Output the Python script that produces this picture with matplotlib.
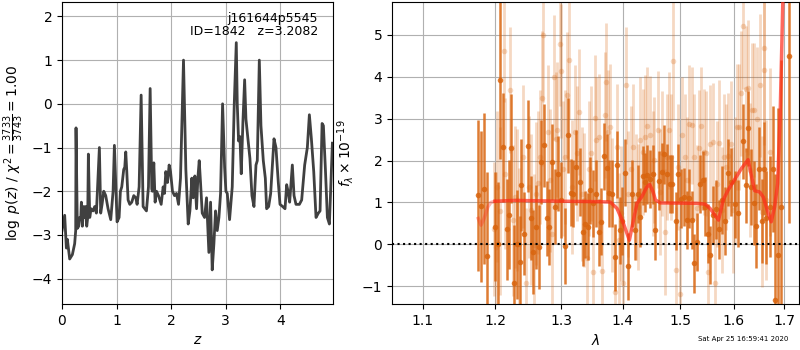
import matplotlib
matplotlib.use("Agg")
import matplotlib.pyplot as plt
from matplotlib.ticker import FixedLocator, NullLocator, FixedFormatter
import numpy as np

# ---------------- left panel: log p(z) ----------------
z_grid = [0.000, 0.049, 0.080, 0.098, 0.141, 0.190, 0.232, 0.251, 0.257, 0.281,
          0.306, 0.324, 0.343, 0.355, 0.373, 0.398, 0.422, 0.434, 0.453, 0.471,
          0.483, 0.508, 0.532, 0.569, 0.599, 0.630, 0.685, 0.709, 0.734, 0.765,
          0.801, 0.844, 0.893, 0.936, 0.960, 1.009, 1.046, 1.070, 1.095, 1.131,
          1.150, 1.168, 1.187, 1.211, 1.242, 1.278, 1.315, 1.352, 1.376, 1.413,
          1.450, 1.486, 1.547, 1.584, 1.615, 1.645, 1.657, 1.682, 1.706, 1.731,
          1.768, 1.817, 1.853, 1.878, 1.902, 1.933, 1.963, 1.988, 2.024, 2.061,
          2.098, 2.135, 2.171, 2.226, 2.269, 2.312, 2.343, 2.379, 2.404, 2.434,
          2.465, 2.489, 2.514, 2.538, 2.569, 2.612, 2.648, 2.691, 2.722, 2.752,
          2.783, 2.813, 2.844, 2.875, 2.905, 2.942, 2.979, 3.003, 3.028, 3.070,
          3.119, 3.156, 3.193, 3.211, 3.235, 3.260, 3.284, 3.315, 3.346, 3.370,
          3.394, 3.443, 3.480, 3.517, 3.554, 3.578, 3.615, 3.645, 3.688, 3.725,
          3.749, 3.786, 3.823, 3.859, 3.884, 3.920, 3.963, 3.994, 4.043, 4.086,
          4.116, 4.141, 4.171, 4.220, 4.251, 4.287, 4.349, 4.391, 4.446, 4.495,
          4.532, 4.569, 4.612, 4.654, 4.697, 4.728, 4.765, 4.789, 4.826, 4.862,
          4.899, 4.954]
log_pz = [-2.9, -2.55, -3.3, -3.1, -3.55, -3.45, -3.2, -2.9, -0.55, -2.85,
          -2.8, -2.6, -2.65, -2.25, -2.8, -2.35, -2.6, -2.35, -2.8, -2.6,
          -1.15, -2.6, -2.4, -2.45, -2.35, -2.5, -1.0, -2.5, -2.3, -2.0,
          -2.1, -2.4, -2.65, -2.0, -0.95, -2.7, -2.6, -2.0, -1.9, -1.5,
          -1.45, -1.1, -1.55, -2.2, -2.3, -2.25, -2.1, -2.15, -2.3, -1.9,
          0.2, -2.35, -2.45, -1.9, 0.35, -1.95, -2.0, -1.35, -2.25, -2.0,
          -2.1, -2.3, -1.9, -2.05, -1.55, -1.8, -1.4, -1.55, -2.0, -2.1,
          -2.05, -2.3, -1.7, 1.0, -1.5, -2.75, -2.45, -1.7, -2.15, -1.65,
          -2.4, -1.7, -1.3, -1.8, -2.5, -2.6, -2.15, -3.4, -2.25, -3.8,
          -3.2, -2.45, -2.9, -2.6, -2.05, 0.0, -1.45, -2.0, -2.05, -2.65,
          -1.9, 0.0, 1.4, 0.0, -0.85, -0.75, -1.6, -0.4, 0.55, -0.35,
          -0.65, -1.25, -2.1, -2.35, -1.4, -1.3, 1.0, -0.5, -1.3, -1.7,
          -2.4, -2.35, -2.05, -1.3, -0.8, -1.0, -1.8, -2.3, -2.35, -2.4,
          -1.85, -2.0, -2.25, -1.4, -2.1, -2.3, -2.3, -2.2, -1.4, -1.0,
          -0.25, -0.8, -1.55, -2.6, -2.5, -2.45, -0.45, -0.5, -1.5, -2.6,
          -2.75, -0.9]

field_name = "j161644p5545"
obj_id = 1842
z_best = 3.2082
chi2_num, chi2_den, chi2_red = 3733, 3743, 1.00

# ---------------- right panel: spectrum ----------------
wave_fit = [1.176, 1.180, 1.184, 1.189, 1.200, 1.204, 1.207, 1.212, 1.217, 1.221,
            1.224, 1.228, 1.232, 1.237, 1.239, 1.243, 1.249, 1.253, 1.256, 1.261,
            1.265, 1.269, 1.273, 1.277, 1.281, 1.285, 1.290, 1.294, 1.300, 1.306,
            1.311, 1.315, 1.319, 1.323, 1.329, 1.334, 1.337, 1.342, 1.346, 1.351,
            1.355, 1.360, 1.364, 1.369, 1.373, 1.377, 1.382, 1.386, 1.390, 1.395,
            1.399, 1.404, 1.409, 1.415, 1.420, 1.425, 1.429, 1.434, 1.438, 1.442,
            1.447, 1.452, 1.456, 1.462, 1.467, 1.471, 1.476, 1.481, 1.486, 1.492,
            1.497, 1.502, 1.507, 1.512, 1.517, 1.522, 1.526, 1.531, 1.536, 1.541,
            1.545, 1.551, 1.555, 1.560, 1.566, 1.571, 1.577, 1.583, 1.590, 1.595,
            1.603, 1.609, 1.618, 1.623, 1.628, 1.633, 1.640, 1.644, 1.650, 1.655,
            1.659, 1.664, 1.672, 1.677, 1.682, 1.688, 1.693, 1.710]
flux_fit = [1.17, 0.91, 1.33, -0.28, 0.42, 0.0, 3.93, 2.32, 0.36, 0.71,
            2.29, -0.93, 0.0, -0.43, 1.41, 0.26, 2.34, 0.62, -0.17, 0.42,
            -0.07, 1.97, 2.36, 0.62, 0.42, 1.97, 0.9, 1.69, 1.06, -0.04,
            2.6, 1.23, 1.21, 1.84, 1.49, 0.29, 0.48, 0.42, 1.29, 0.98,
            1.21, 0.29, 0.54, 2.1, 1.83, 1.22, 1.21, -0.31, 1.9, 0.34,
            0.56, 1.71, -0.52, 1.21, 0.34, 1.2, 0.65, 1.64, 1.48, 1.66,
            1.56, 1.67, 0.34, 1.52, 1.73, 2.15, 1.69, 1.44, 1.44, 0.56,
            1.69, 1.09, 1.13, 0.58, 1.1, 0.58, -0.45, 0.06, 1.44, 1.53,
            0.9, 0.26, -0.25, 0.7, 0.84, 0.36, 1.06, 0.56, 1.71, 1.49,
            0.96, 0.74, 2.46, 1.41, 2.77, 1.37, 0.98, 0.44, 1.81, 0.56,
            1.81, 0.64, 0.9, 1.79, -1.33, -0.25, 0.9, 4.5]
err_fit = [1.8, 1.8, 1.8, 2.0, 1.3, 1.5, 1.9, 1.3, 1.2, 1.3,
           1.3, 1.4, 1.3, 1.1, 1.1, 1.0, 1.1, 1.0, 1.0, 1.0,
           1.0, 1.0, 1.0, 0.9, 0.9, 0.9, 0.9, 0.9, 0.9, 0.9,
           0.9, 0.8, 0.8, 0.9, 0.8, 0.8, 0.8, 0.8, 0.8, 0.8,
           0.8, 0.8, 0.8, 0.8, 0.8, 0.8, 0.8, 0.8, 0.8, 0.8,
           0.8, 0.8, 0.8, 0.8, 0.7, 0.7, 0.7, 0.7, 0.7, 0.7,
           0.7, 0.7, 0.7, 0.7, 0.7, 0.7, 0.7, 0.7, 0.7, 0.7,
           0.7, 0.7, 0.7, 0.7, 0.7, 0.7, 0.7, 0.7, 0.7, 0.7,
           0.7, 0.7, 0.7, 0.7, 0.7, 0.7, 0.8, 0.8, 0.8, 0.8,
           0.8, 0.8, 0.9, 0.9, 0.9, 0.9, 1.0, 1.0, 1.0, 1.0,
           1.1, 1.1, 1.2, 1.5, 3.0, 3.5, 3.5, 4.0]

wave_other = [1.203, 1.213, 1.222, 1.208, 1.202, 1.198, 1.215, 1.226, 1.230, 1.233,
              1.236, 1.241, 1.246, 1.251, 1.254, 1.258, 1.261, 1.264, 1.267, 1.270,
              1.272, 1.279, 1.283, 1.285, 1.288, 1.291, 1.293, 1.298, 1.300, 1.303,
              1.305, 1.309, 1.312, 1.316, 1.321, 1.324, 1.328, 1.332, 1.336, 1.340,
              1.344, 1.348, 1.351, 1.354, 1.356, 1.360, 1.365, 1.370, 1.372, 1.375,
              1.378, 1.382, 1.386, 1.390, 1.394, 1.396, 1.400, 1.405, 1.409, 1.414,
              1.418, 1.422, 1.426, 1.429, 1.434, 1.438, 1.442, 1.447, 1.451, 1.454,
              1.460, 1.464, 1.468, 1.473, 1.476, 1.480, 1.484, 1.488, 1.492, 1.496,
              1.500, 1.504, 1.509, 1.512, 1.517, 1.521, 1.526, 1.531, 1.535, 1.539,
              1.544, 1.548, 1.552, 1.555, 1.560, 1.564, 1.568, 1.572, 1.577, 1.582,
              1.586, 1.590, 1.594, 1.598, 1.602, 1.606, 1.610, 1.615, 1.619, 1.623,
              1.627, 1.631, 1.636, 1.640, 1.646, 1.651, 1.656, 1.660, 1.659, 1.664,
              1.671]
flux_other = [1.37, 4.60, 3.69, 0.80, -0.07, 0.36, 1.69, 0.58, 1.13, 1.06,
              0.02, 2.09, -0.93, 1.37, 0.83, -0.02, 1.21, 1.47, 2.09, 3.48,
              5.0, 2.68, 1.53, 0.26, 3.98, 2.52, 2.74, 4.79, 4.13, 1.81,
              2.09, 3.56, 4.40, 1.37, 2.68, 2.17, 3.15, 1.21, 1.06, -0.33,
              1.81, 2.17, -0.65, 3.02, 2.48, 2.56, -0.63, 3.08, 3.87, 2.67,
              2.80, 0.94, -1.13, 2.33, 0.10, 0.74, -0.93, 3.79, 1.20, 1.81,
              2.33, 1.13, 0.90, 2.48, 2.20, 2.55, 2.83, 2.62, 1.69, 2.01,
              2.74, 1.25, 2.17, 0.30, 2.09, 2.72, 2.09, 4.37, -0.61, 1.85,
              -1.17, 2.60, 2.09, 1.53, 2.87, 2.84, 2.09, 0.88, 2.29, 2.82,
              2.21, 2.17, -0.65, 2.40, 2.44, -0.91, 1.45, 2.43, 0.82, 2.09,
              1.85, 2.11, 2.40, 0.82, 1.53, 2.79, 2.80, 3.60, 5.21, 3.71,
              3.74, 1.77, 3.20, 3.21, 3.00, 3.79, 0.78, 4.69, 4.17, 1.06,
              2.21]
err_other = [1.8, 1.2, 1.5, 2.0, 1.8, 1.6, 1.8, 1.8, 1.7, 1.7,
             1.8, 1.7, 1.8, 1.7, 1.8, 1.7, 1.7, 1.7, 1.6, 1.6,
             1.6, 1.6, 1.7, 1.7, 1.5, 1.6, 1.6, 1.5, 1.6, 1.6,
             1.6, 1.5, 1.4, 1.6, 1.6, 1.6, 1.5, 1.6, 1.6, 1.6,
             1.6, 1.6, 1.6, 1.5, 1.5, 1.5, 1.6, 1.5, 1.4, 1.5,
             1.5, 1.6, 1.6, 1.5, 1.6, 1.6, 1.6, 1.4, 1.5, 1.5,
             1.5, 1.5, 1.5, 1.5, 1.5, 1.5, 1.4, 1.4, 1.5, 1.5,
             1.4, 1.5, 1.5, 1.5, 1.5, 1.4, 1.5, 1.4, 1.5, 1.5,
             1.6, 1.4, 1.5, 1.5, 1.4, 1.4, 1.5, 1.5, 1.4, 1.4,
             1.5, 1.5, 1.5, 1.4, 1.4, 1.5, 1.5, 1.5, 1.5, 1.5,
             1.5, 1.5, 1.5, 1.5, 1.5, 1.5, 1.5, 1.5, 1.5, 1.5,
             1.6, 1.6, 1.6, 1.6, 1.7, 1.7, 1.8, 1.8, 1.8, 1.9,
             2.0]

wave_model = [1.176, 1.180, 1.184, 1.190, 1.194, 1.200, 1.228, 1.303, 1.357, 1.379,
              1.390, 1.400, 1.411, 1.418, 1.424, 1.432, 1.441, 1.446, 1.452, 1.456,
              1.465, 1.531, 1.546, 1.555, 1.571, 1.580, 1.589, 1.601, 1.615, 1.628,
              1.635, 1.641, 1.651, 1.658, 1.668, 1.674, 1.681, 1.687, 1.692, 1.696,
              1.699]
flux_model = [0.62, 0.46, 0.60, 0.90, 1.00, 1.03, 1.05, 1.03, 1.02, 1.01,
              0.86, 0.54, 0.10, 0.58, 0.98, 1.13, 1.37, 1.43, 1.25, 1.06,
              0.99, 0.98, 0.96, 0.86, 0.58, 1.06, 1.29, 1.53, 1.81, 2.02,
              1.61, 1.28, 1.25, 1.13, 0.74, 0.54, 0.90, 1.45, 3.04, 5.0,
              6.5]

x_ticks = [1.1, 1.2, 1.3, 1.4, 1.5, 1.6, 1.7]
x_tick_labels = ["1.1", "1.2", "1.3", "1.4", "1.5", "1.6", "1.7"]
timestamp = "Sat Apr 25 16:59:41 2020"

plt.rcParams['font.family'] = ['DejaVu Sans']
fig = plt.figure(figsize=(8, 3.5), dpi=100)

ax1 = fig.add_axes([0.0775, 0.1314, 0.33875, 0.8629])
ax1.plot(z_grid, log_pz, color='0.25', lw=2)
ax1.set_xlim(0, 4.965)
ax1.set_ylim(-4.58, 2.33)
ax1.set_xticks([0, 1, 2, 3, 4])
ax1.set_yticks([-4, -3, -2, -1, 0, 1, 2])
ax1.grid(True)
ax1.set_xlabel(r'$z$')
ax1.set_ylabel(r'$\log\ p(z)$ / $\chi^2=\frac{%d}{%d}=%.2f$' % (chi2_num, chi2_den, chi2_red))
ax1.text(0.945, 0.968, '%s\nID=%d   z=%.4f' % (field_name, obj_id, z_best),
         transform=ax1.transAxes, ha='right', va='top', fontsize=9, linespacing=1.05)

ax2 = fig.add_axes([0.49, 0.1314, 0.50875, 0.8629])
col = '#d9650f'
ax2.errorbar(wave_other, flux_other, yerr=err_other, fmt='o', color=col, alpha=0.25,
             ms=4, lw=2.0, capsize=0, mec='none')
ax2.errorbar(wave_fit, flux_fit, yerr=err_fit, fmt='o', color=col, alpha=0.85,
             ms=4, lw=1.8, capsize=0, mec='none')
ax2.plot(wave_model[:6], flux_model[:6], color='#ff2a1a', alpha=0.35, lw=2.5, zorder=5)
ax2.plot(wave_model[5:], flux_model[5:], color='#ff2a1a', alpha=0.7, lw=2.5, zorder=5)
ax2.axhline(0, color='k', ls=':', lw=1.5, zorder=6)
ax2.set_xscale('log')
ax2.set_xlim(1.060, 1.731)
ax2.set_ylim(-1.42, 5.78)
ax2.xaxis.set_major_locator(FixedLocator(x_ticks))
ax2.xaxis.set_major_formatter(FixedFormatter(x_tick_labels))
ax2.xaxis.set_minor_locator(NullLocator())
ax2.set_yticks([-1, 0, 1, 2, 3, 4, 5])
ax2.grid(True)
ax2.set_xlabel(r'$\lambda$')
ax2.set_ylabel(r'$f_\lambda\times10^{-19}$')

fig.text(0.985, 0.031, timestamp, ha='right', va='center', fontsize=5)

fig.savefig('out.png', dpi=100)
